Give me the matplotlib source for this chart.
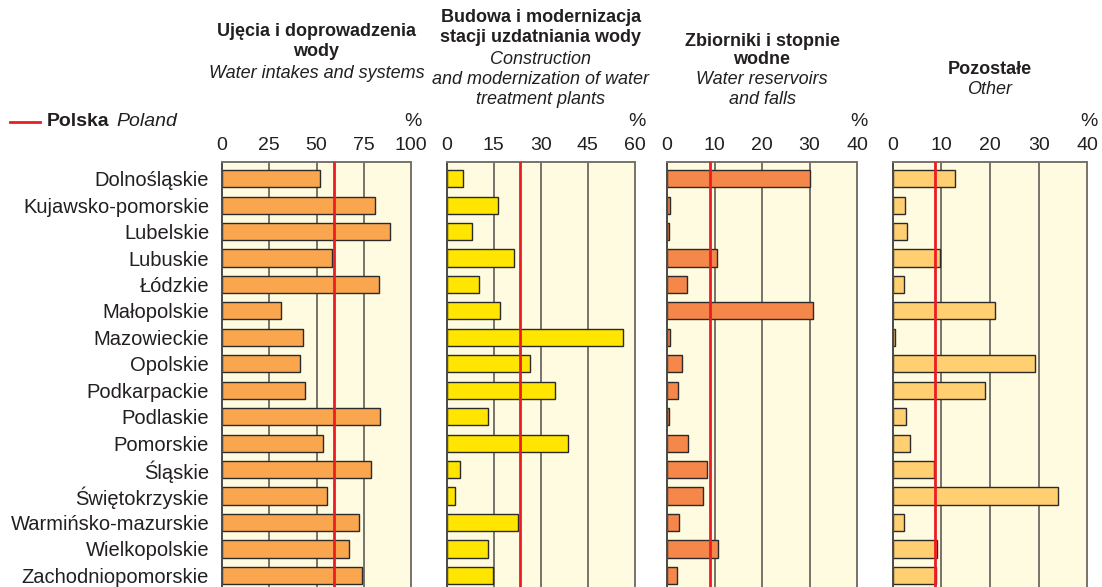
import numpy as np
import matplotlib
matplotlib.use("Agg")
from matplotlib import pyplot as plt

plt.rcParams["font.family"] = ["Liberation Sans", "DejaVu Sans"]

regions = ["Dolnośląskie", "Kujawsko-pomorskie", "Lubelskie", "Lubuskie",
           "Łódzkie", "Małopolskie", "Mazowieckie", "Opolskie",
           "Podkarpackie", "Podlaskie", "Pomorskie", "Śląskie",
           "Świętokrzyskie", "Warmińsko-mazurskie", "Wielkopolskie",
           "Zachodniopomorskie"]

# % shares of investment outlays by purpose
intakes = [51.8, 81.0, 88.9, 58.3, 83.1, 31.3, 42.9, 41.5,
           44.1, 83.7, 53.4, 78.9, 55.7, 72.2, 67.0, 74.2]
treatment = [5.1, 16.2, 8.0, 21.4, 10.3, 16.9, 56.3, 26.5,
             34.6, 13.1, 38.6, 4.1, 2.7, 22.8, 13.2, 14.8]
reservoirs = [30.2, 0.6, 0.4, 10.6, 4.3, 30.8, 0.7, 3.1,
              2.3, 0.5, 4.4, 8.5, 7.6, 2.5, 10.7, 2.2]
other = [12.9, 2.5, 2.9, 9.7, 2.3, 21.0, 0.5, 29.2,
         19.0, 2.7, 3.6, 8.4, 34.0, 2.4, 9.2, 9.0]

# Poland average for each category
poland = [59.1, 23.3, 9.1, 8.6]

ticks = [[0, 25, 50, 75, 100], [0, 15, 30, 45, 60],
         [0, 10, 20, 30, 40], [0, 10, 20, 30, 40]]

txt = "#231f20"
bg = "#fffbe0"
gridc = "#77736a"
colors = ["#f9a64f", "#ffe500", "#f5874a", "#ffcf72"]

fig = plt.figure(figsize=(11.02, 5.87), dpi=100)
W, H = 1102, 587

# left edge and width of each panel in pixels
panels = [(221.7, 189.6), (446.7, 188.3), (667.0, 190.0), (892.7, 194.6)]
top_px = 162

series = [intakes, treatment, reservoirs, other]
y = np.arange(len(regions))

for k, (x0, w) in enumerate(panels):
    ax = fig.add_axes([x0 / W, 0, w / W, (H - top_px) / H])
    ax.set_facecolor(bg)
    ax.set_xlim(ticks[k][0], ticks[k][-1])
    ax.set_ylim(15.44, -0.63)
    for t in ticks[k][1:-1]:
        ax.axvline(t, color=gridc, lw=1.4, zorder=1)
    ax.barh(y, series[k], height=0.65, color=colors[k],
            edgecolor="#2b2b2b", linewidth=1.0, zorder=2)
    ax.axvline(poland[k], color="#ec1c24", lw=2.0, zorder=3)

    ax.xaxis.set_ticks_position("top")
    ax.set_xticks(ticks[k])
    ax.tick_params(axis="x", length=0, pad=6, labelsize=14, colors=txt)
    if k == 0:
        ax.set_yticks(y)
        ax.set_yticklabels(regions)
        ax.tick_params(axis="y", length=0, pad=9, labelsize=14.5, colors=txt)
    else:
        ax.set_yticks([])
    for s in ["top", "right"]:
        ax.spines[s].set_color(gridc)
        ax.spines[s].set_linewidth(1.4)
    ax.spines["left"].set_color("#4a4a4a")
    ax.spines["left"].set_linewidth(1.4)
    ax.spines["bottom"].set_visible(False)

    fig.text((x0 + w + 2) / W, 1 - 121 / H, "%", ha="center", va="center",
             fontsize=14, color=txt)

# panel headers: (text, bold?, y in px)
headers = [
    [("Ujęcia i doprowadzenia", True, 32), ("wody", True, 52),
     ("Water intakes and systems", False, 73)],
    [("Budowa i modernizacja", True, 18), ("stacji uzdatniania wody", True, 38),
     ("Construction", False, 59), ("and modernization of water", False, 79),
     ("treatment plants", False, 99)],
    [("Zbiorniki i stopnie", True, 41), ("wodne", True, 60),
     ("Water reservoirs", False, 80), ("and falls", False, 100)],
    [("Pozostałe", True, 70), ("Other", False, 89)],
]
centers = [316.5, 540.8, 762.0, 990.0]
for k, lines in enumerate(headers):
    for text, bold, ypx in lines:
        fig.text(centers[k] / W, 1 - ypx / H, text, ha="center", va="center",
                 fontsize=13, color=txt,
                 fontweight="bold" if bold else "normal",
                 fontstyle="normal" if bold else "italic")

# legend for the national average line
fig.add_artist(plt.Line2D([10 / W, 40 / W], [1 - 122 / H, 1 - 122 / H],
                          color="#ec1c24", lw=2.0))
fig.text(47 / W, 1 - 122 / H, "Polska", ha="left", va="center",
         fontsize=14, fontweight="bold", color=txt)
fig.text(116 / W, 1 - 122 / H, "Poland", ha="left", va="center",
         fontsize=14, fontstyle="italic", color=txt)

fig.savefig("out.png", dpi=100)
